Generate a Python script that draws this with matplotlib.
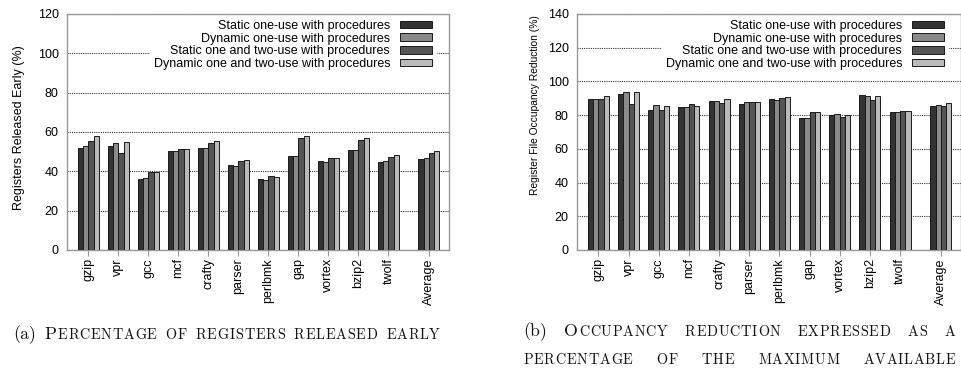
import matplotlib
matplotlib.use('Agg')
import matplotlib.pyplot as plt
from matplotlib.transforms import IdentityTransform
import numpy as np

benchmarks = ['gzip', 'vpr', 'gcc', 'mcf', 'crafty', 'parser', 'perlbmk',
              'gap', 'vortex', 'bzip2', 'twolf', 'Average']
series_labels = ['Static one-use with procedures',
                 'Dynamic one-use with procedures',
                 'Static one and two-use with procedures',
                 'Dynamic one and two-use with procedures']

# (a) Percentage of registers released early
released_static_one = [52.1, 53.0, 36.3, 50.3, 52.0, 43.3, 36.0, 47.9, 45.3, 50.9, 44.7, 46.5]
released_dynamic_one = [53.0, 54.5, 36.7, 50.3, 52.1, 42.8, 35.8, 48.0, 44.8, 50.9, 45.2, 46.7]
released_static_two = [55.5, 49.4, 39.7, 51.4, 54.5, 45.3, 37.7, 57.2, 46.9, 56.0, 47.4, 49.1]
released_dynamic_two = [58.1, 54.8, 39.7, 51.4, 55.3, 45.7, 37.0, 58.1, 46.9, 57.0, 48.2, 50.3]

# (b) Register file occupancy reduction
occupancy_static_one = [89.7, 92.3, 83.2, 85.0, 88.5, 86.5, 89.7, 78.2, 79.8, 91.9, 81.8, 85.5]
occupancy_dynamic_one = [89.7, 93.9, 85.9, 84.6, 88.5, 87.7, 89.1, 78.2, 80.4, 91.3, 81.8, 86.3]
occupancy_static_two = [89.7, 86.9, 82.8, 86.5, 87.3, 87.7, 90.1, 81.8, 79.0, 88.9, 82.2, 85.5]
occupancy_dynamic_two = [91.1, 93.9, 85.3, 85.5, 89.3, 87.7, 90.7, 81.8, 80.0, 91.3, 82.2, 87.1]

caption_a = "(a) Percentage of registers released early"
caption_b_lines = ["(b) Occupancy reduction expressed as a",
                   "percentage of the maximum available"]

colors = ['#333333', '#8a8a8a', '#555555', '#bababa']
SANS = ['Liberation Sans', 'DejaVu Sans']
SERIF = ['cmr10', 'DejaVu Serif']

W, H = 961, 381
fig = plt.figure(figsize=(W / 100, H / 100), dpi=100)
ax1 = fig.add_axes([67 / W, 131 / H, 382 / W, 236 / H])
ax2 = fig.add_axes([577 / W, 131 / H, 384 / W, 236 / H])

x = np.array(list(range(11)) + [11.35])
bw = 0.175


def draw(ax, data, ymax, ylabel, label_xy, label_size, axw):
    for i, vals in enumerate(data):
        ax.bar(x + (i - 1.5) * bw, vals, bw, color=colors[i], edgecolor='#1a1a1a',
               linewidth=0.7, label=series_labels[i], zorder=3)
    ax.set_ylim(0, ymax)
    ax.set_yticks(range(0, ymax + 1, 20))
    ax.set_xlim(-0.71, 12.02)
    ax.set_xticks(x)
    ax.set_xticklabels(benchmarks, rotation=90, family=SANS, fontsize=9)
    for lab in ax.get_yticklabels():
        lab.set_family(SANS)
        lab.set_fontsize(9)
    ax.yaxis.grid(True, linestyle=(0, (1, 1)), color='#333333', linewidth=0.8)
    ax.set_axisbelow(True)
    for sp in ax.spines.values():
        sp.set_color('#999999')
        sp.set_linewidth(1.0)
    ax.tick_params(axis='y', length=0, pad=6)
    ax.tick_params(axis='x', length=4, color='#999999', pad=2)
    ax.set_ylabel(ylabel, family=SANS, fontsize=label_size)
    ax.yaxis.set_label_coords(*label_xy)
    leg = ax.legend(loc='upper right', bbox_to_anchor=(1.0 - 7 / axw, 1.0 + 4 / 236),
                    markerfirst=False,
                    prop={'family': SANS, 'size': 9}, frameon=True, fancybox=False,
                    framealpha=1, edgecolor='white', facecolor='white',
                    handlelength=2.6, handleheight=0.55, labelspacing=0.05,
                    borderpad=0.3, borderaxespad=0.5, handletextpad=0.75)
    leg.set_zorder(5)


draw(ax1, [released_static_one, released_dynamic_one, released_static_two, released_dynamic_two],
     120, 'Registers Released Early (%)', (-0.110, 0.52), 9, 382)
draw(ax2, [occupancy_static_one, occupancy_dynamic_one, occupancy_static_two, occupancy_dynamic_two],
     140, 'Register File Occupancy Reduction (%)', (-0.096, 0.614), 7.4, 384)

# ---- small-caps captions ----
renderer = fig.canvas.get_renderer()
SMALL_RATIO = 0.8
TRACK = 0.8
GAP_A = 9.0


def word_letters(word, big):
    small = big * SMALL_RATIO
    if word.startswith('('):
        return [(word, big)]
    return [(ch.upper(), big if ch.isupper() else small) for ch in word]


def build_line(text, big):
    items = []
    for wd in text.split(' '):
        objs = []
        for s, size in word_letters(wd, big):
            t = fig.text(0, 0, s, fontsize=size, family=SERIF, transform=IdentityTransform(),
                         ha='left', va='baseline', color='#111111')
            objs.append((t, t.get_window_extent(renderer).width))
        items.append(objs)
    return items


def remove_line(items):
    for objs in items:
        for t, _ in objs:
            t.remove()


def place_line(items, x0, baseline_top, tracking, gap):
    cx = x0
    y = H - baseline_top
    for objs in items:
        for t, wdt in objs:
            t.set_position((cx, y))
            cx += wdt + tracking
        cx += gap - tracking


def measure(items):
    return sum(w for objs in items for _, w in objs), sum(len(objs) for objs in items)


# caption (a): pick the size so that the caption spans the reference width
base = 12.0
la = build_line(caption_a, base)
wa, na = measure(la)
target = 427 - GAP_A * (len(la) - 1) - TRACK * (na - len(la))
big = base * target / wa
remove_line(la)
la = build_line(caption_a, big)
place_line(la, 13, 339, TRACK, GAP_A)

# caption (b): same size, justified lines
for line, yb in zip(caption_b_lines, [336, 364]):
    lb = build_line(line, big)
    wb, nb = measure(lb)
    letters_w = wb + TRACK * (nb - len(lb))
    gap_b = (432 - letters_w) / (len(lb) - 1)
    place_line(lb, 523, yb, TRACK, gap_b)

fig.savefig('out.png', dpi=100)
